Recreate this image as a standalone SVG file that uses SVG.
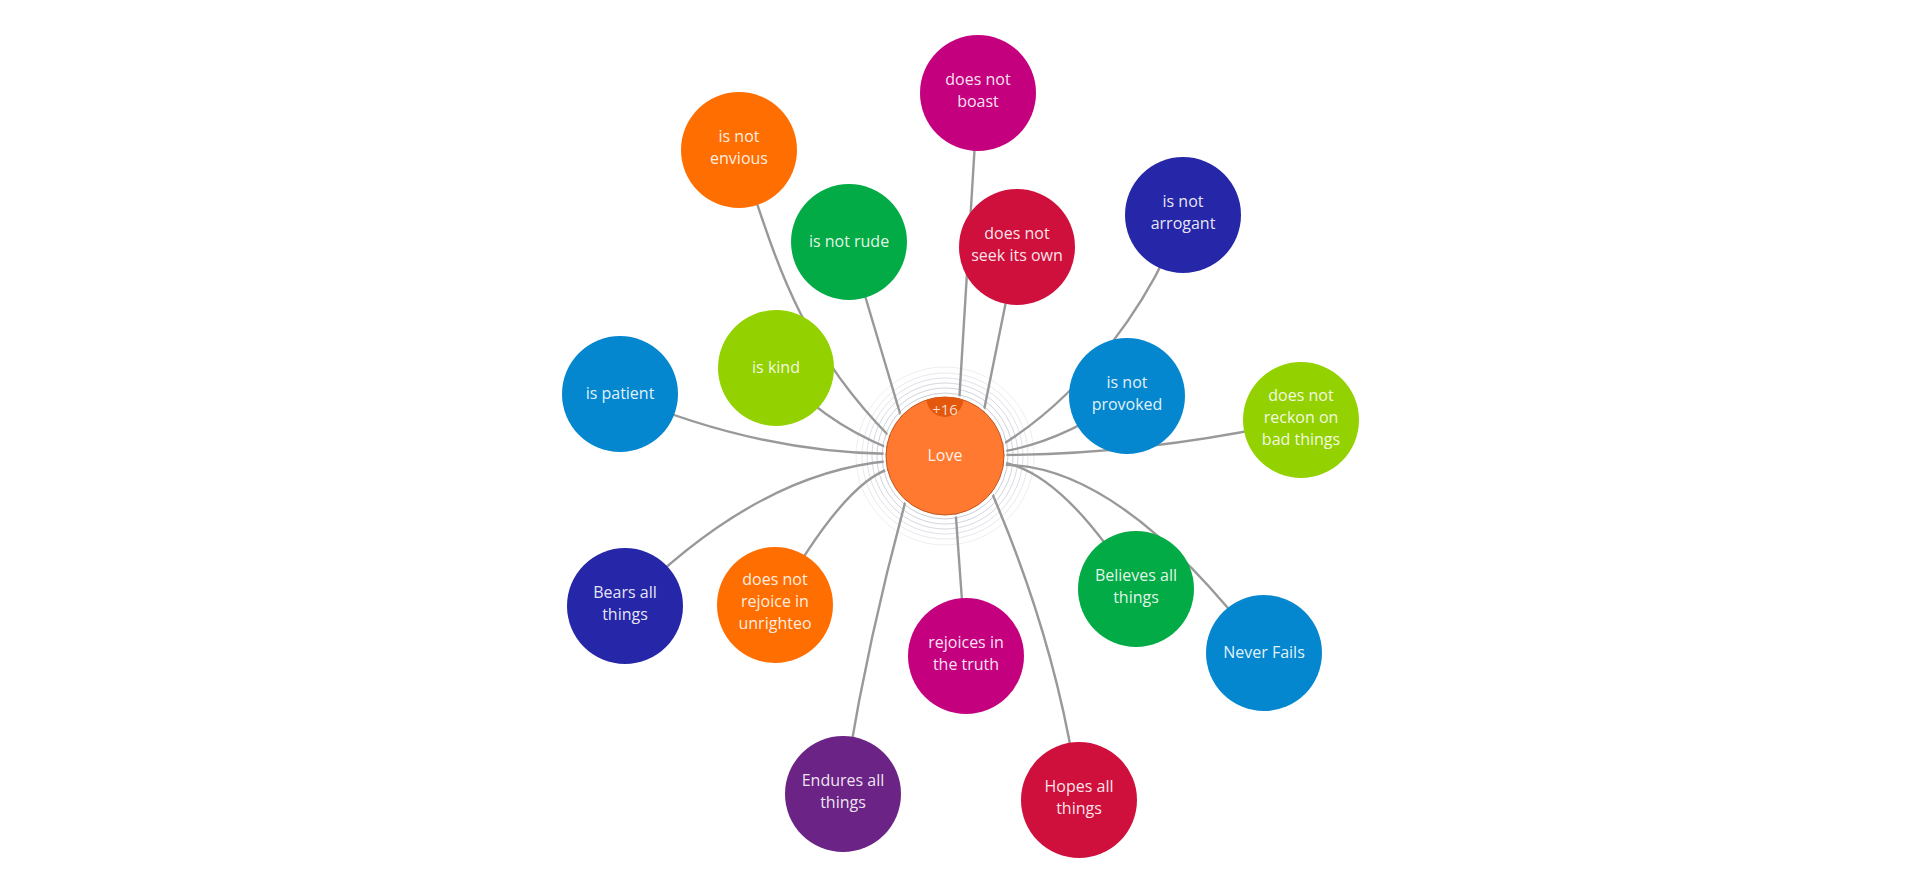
<svg xmlns="http://www.w3.org/2000/svg" width="1920" height="893" viewBox="0 0 1920 893">
<style>
.link{fill:none;stroke:#999999;stroke-width:2.4;stroke-linecap:round;stroke-linejoin:round}
.ring{fill:none;stroke:#c3c8d2;stroke-width:1}
.lbl{font-family:"Open Sans","Liberation Sans",sans-serif;font-size:16px;fill:#ffffff;fill-opacity:0.9;text-anchor:middle}
</style>
<defs>
<clipPath id="loveClip"><circle cx="945" cy="456" r="59"/></clipPath>
</defs>
<rect width="1920" height="893" fill="#ffffff"/>
<g id="rings">
<circle class="ring" cx="945" cy="456" r="63" stroke-opacity="0.9"/>
<circle class="ring" cx="945" cy="456" r="68" stroke-opacity="0.8"/>
<circle class="ring" cx="945" cy="456" r="73" stroke-opacity="0.7"/>
<circle class="ring" cx="945" cy="456" r="78" stroke-opacity="0.55"/>
<circle class="ring" cx="945" cy="456" r="83" stroke-opacity="0.4"/>
<circle class="ring" cx="945" cy="456" r="89" stroke-opacity="0.3"/>
</g>
<g id="connectors">
<path class="link" d="M945,456 L890,454 Q755,452 620,394"/>
<path class="link" d="M945,456 L890,461 Q756.5,472.5 625,606"/>
<path class="link" d="M945,456 L892,468 Q844.5,480.5 775,605"/>
<path class="link" d="M945,456 L908,492 Q866,644.5 843,794"/>
<path class="link" d="M953,476 L966,656"/>
<path class="link" d="M945,456 L988,484 Q1058.5,645 1079,800"/>
<path class="link" d="M945,456 L1000,462 Q1062,470.5 1136,589"/>
<path class="link" d="M945,456 L1000,465 Q1118,461 1264,653"/>
<path class="link" d="M945,456 L1000,455 Q1149.5,454.5 1301,420"/>
<path class="link" d="M945,456 L1000,452 Q1062.5,442 1127,396"/>
<path class="link" d="M945,456 L1000,446 C1085,394 1152,300 1183,215"/>
<path class="link" d="M980,430 L1017,247"/>
<path class="link" d="M958,420 L978,93"/>
<path class="link" d="M905,430 L849,242"/>
<path class="link" d="M904,451 L890,437 C792,338 772,244 739,150"/>
<path class="link" d="M902,454 L888,448 Q820,420 776,368"/>
</g>
<g id="node-boast"><circle cx="978" cy="93" r="58" fill="#C5007F"/><text class="lbl" x="978" y="85">does not</text><text class="lbl" x="978" y="107">boast</text></g>
<g id="node-envious"><circle cx="739" cy="150" r="58" fill="#FF6E00"/><text class="lbl" x="739" y="142">is not</text><text class="lbl" x="739" y="164">envious</text></g>
<g id="node-rude"><circle cx="849" cy="242" r="58" fill="#02AB45"/><text class="lbl" x="849" y="247">is not rude</text></g>
<g id="node-seek"><circle cx="1017" cy="247" r="58" fill="#D0103C"/><text class="lbl" x="1017" y="239">does not</text><text class="lbl" x="1017" y="261">seek its own</text></g>
<g id="node-arrogant"><circle cx="1183" cy="215" r="58" fill="#2626A8"/><text class="lbl" x="1183" y="207">is not</text><text class="lbl" x="1183" y="229">arrogant</text></g>
<g id="node-kind"><circle cx="776" cy="368" r="58" fill="#93D100"/><text class="lbl" x="776" y="373">is kind</text></g>
<g id="node-patient"><circle cx="620" cy="394" r="58" fill="#0487CF"/><text class="lbl" x="620" y="399">is patient</text></g>
<g id="node-provoked"><circle cx="1127" cy="396" r="58" fill="#0487CF"/><text class="lbl" x="1127" y="388">is not</text><text class="lbl" x="1127" y="410">provoked</text></g>
<g id="node-reckon"><circle cx="1301" cy="420" r="58" fill="#93D100"/><text class="lbl" x="1301" y="401">does not</text><text class="lbl" x="1301" y="423">reckon on</text><text class="lbl" x="1301" y="445">bad things</text></g>
<g id="node-bears"><circle cx="625" cy="606" r="58" fill="#2626A8"/><text class="lbl" x="625" y="598">Bears all</text><text class="lbl" x="625" y="620">things</text></g>
<g id="node-unrighteo"><circle cx="775" cy="605" r="58" fill="#FF6E00"/><text class="lbl" x="775" y="585">does not</text><text class="lbl" x="775" y="607">rejoice in</text><text class="lbl" x="775" y="629">unrighteo</text></g>
<g id="node-believes"><circle cx="1136" cy="589" r="58" fill="#02AB45"/><text class="lbl" x="1136" y="581">Believes all</text><text class="lbl" x="1136" y="603">things</text></g>
<g id="node-never"><circle cx="1264" cy="653" r="58" fill="#0487CF"/><text class="lbl" x="1264" y="658">Never Fails</text></g>
<g id="node-truth"><circle cx="966" cy="656" r="58" fill="#C5007F"/><text class="lbl" x="966" y="648">rejoices in</text><text class="lbl" x="966" y="670">the truth</text></g>
<g id="node-endures"><circle cx="843" cy="794" r="58" fill="#6B2386"/><text class="lbl" x="843" y="786">Endures all</text><text class="lbl" x="843" y="808">things</text></g>
<g id="node-hopes"><circle cx="1079" cy="800" r="58" fill="#D0103C"/><text class="lbl" x="1079" y="792">Hopes all</text><text class="lbl" x="1079" y="814">things</text></g>
<g id="node-love">
<circle cx="945" cy="456" r="60.5" fill="none" stroke="#ffffff" stroke-width="2"/>
<circle cx="945" cy="456" r="59" fill="#FF7A30" stroke="#C4561C" stroke-width="1"/>
<circle cx="945" cy="398.5" r="18.5" fill="#E3580C" clip-path="url(#loveClip)"/>
<text class="lbl" x="945" y="415" style="font-size:15px;fill-opacity:0.8">+16</text>
<text class="lbl" x="945" y="461">Love</text>
</g>
</svg>
